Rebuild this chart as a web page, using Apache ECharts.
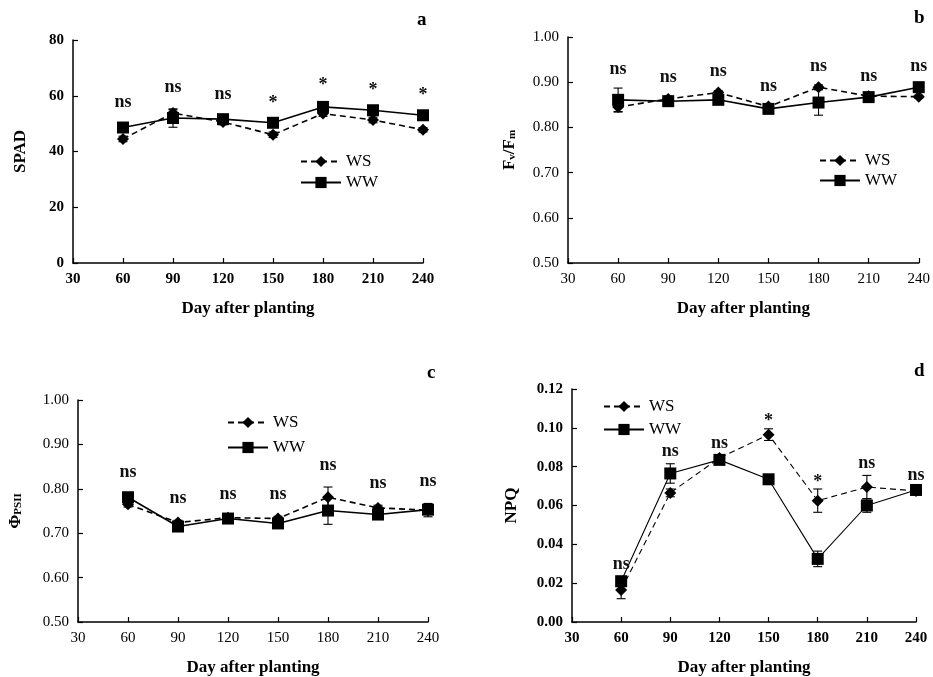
<!DOCTYPE html>
<html><head><meta charset="utf-8">
<script src="https://cdn.jsdelivr.net/npm/echarts@6/dist/echarts.min.js"></script>
<style>html,body{margin:0;padding:0;background:#fff}#c{width:933px;height:677px}</style>
</head><body><div id="c"></div>
<script>
const days = [60, 90, 120, 150, 180, 210, 240];
const xTicks = [30, 60, 90, 120, 150, 180, 210, 240];

// a: SPAD
const spadWS = [44.5, 53.8, 50.6, 46.0, 53.6, 51.3, 47.8];
const spadWSErr = [1.0, 1.2, 1.0, 1.0, 1.0, 1.0, 0.8];
const spadWW = [48.6, 52.0, 51.6, 50.3, 56.0, 54.8, 53.0];
const spadWWErr = [1.0, 3.3, 1.0, 1.0, 1.5, 1.0, 1.0];
const sigA = ['ns', 'ns', 'ns', '*', '*', '*', '*'];

// b: Fv/Fm
const fvWS = [0.845, 0.863, 0.877, 0.846, 0.889, 0.869, 0.868];
const fvWSErr = [0.011, 0.006, 0.004, 0.003, 0.005, 0.003, 0.003];
const fvWW = [0.861, 0.858, 0.861, 0.841, 0.855, 0.867, 0.889];
const fvWWErr = [0.026, 0.010, 0.004, 0.004, 0.028, 0.004, 0.004];
const sigB = ['ns', 'ns', 'ns', 'ns', 'ns', 'ns', 'ns'];

// c: ΦPSII
const phiWS = [0.765, 0.724, 0.735, 0.733, 0.781, 0.757, 0.752];
const phiWSErr = [0.006, 0.005, 0.004, 0.005, 0.023, 0.006, 0.015];
const phiWW = [0.781, 0.715, 0.733, 0.722, 0.751, 0.742, 0.753];
const phiWWErr = [0.007, 0.005, 0.005, 0.005, 0.031, 0.007, 0.005];
const sigC = ['ns', 'ns', 'ns', 'ns', 'ns', 'ns', 'ns'];

// d: NPQ
const npqWS = [0.0165, 0.0665, 0.0845, 0.0965, 0.0625, 0.0695, 0.0675];
const npqWSErr = [0.0045, 0.002, 0.0015, 0.003, 0.006, 0.006, 0.0015];
const npqWW = [0.021, 0.0765, 0.0835, 0.0735, 0.0325, 0.060, 0.068];
const npqWWErr = [0.0025, 0.005, 0.0015, 0.002, 0.004, 0.0035, 0.0015];
const sigD = ['ns', 'ns', 'ns', '*', '*', 'ns', 'ns'];

const FONT = 'Liberation Serif';
const chart = echarts.init(document.getElementById('c'));

const panels = [
  {letter: 'a', ws: spadWS, wsE: spadWSErr, ww: spadWW, wwE: spadWWErr, sig: sigA,
   grid: {left: 73, top: 40, width: 350, height: 223}, ymin: 0, ymax: 80, yint: 20, dec: 0,
   yname: 'SPAD', tickBold: 'bold', sigOff: 22, lw: 1.6, nameGap: 44,
   legend: {left: 295, top: 148, gap: 4}, letterPos: [422, 22]},
  {letter: 'b', ws: fvWS, wsE: fvWSErr, ww: fvWW, wwE: fvWWErr, sig: sigB,
   grid: {left: 568, top: 37, width: 351, height: 226}, ymin: 0.5, ymax: 1.0, yint: 0.1, dec: 2,
   yname: '{n|F}{sub|v}{n|/F}{sub|m}', tickBold: 'normal', sigOff: 19, lw: 1.6, nameGap: 50,
   legend: {left: 814, top: 147, gap: 3}, letterPos: [919, 20]},
  {letter: 'c', ws: phiWS, wsE: phiWSErr, ww: phiWW, wwE: phiWWErr, sig: sigC,
   grid: {left: 78, top: 400, width: 350, height: 223}, ymin: 0.5, ymax: 1.0, yint: 0.1, dec: 2,
   yname: '{n|Φ}{sub|PSII}', tickBold: 'normal', sigOff: 22, lw: 1.6, nameGap: 54,
   legend: {left: 222, top: 409, gap: 8}, letterPos: [432, 375]},
  {letter: 'd', ws: npqWS, wsE: npqWSErr, ww: npqWW, wwE: npqWWErr, sig: sigD,
   grid: {left: 572, top: 389, width: 344, height: 240}, ymin: 0, ymax: 0.12, yint: 0.02, dec: 2,
   yname: 'NPQ', tickBold: 'bold', sigOff: 12, lw: 1.1, nameGap: 52,
   legend: {left: 598, top: 393, gap: 6}, letterPos: [919, 373]}
];

const grids = [], xAxes = [], yAxes = [], series = [], legends = [], graphics = [];

function errData(vals, errs) {
  return days.map((d, i) => [d, vals[i] - errs[i], vals[i] + errs[i]]);
}

panels.forEach((p, k) => {
  grids.push(p.grid);
  xAxes.push({
    type: 'value', gridIndex: k, min: 30, max: 240, interval: 30,
    name: 'Day after planting', nameLocation: 'middle', nameGap: 37,
    nameTextStyle: {fontFamily: FONT, fontSize: 17, fontWeight: 'bold', color: '#000'},
    axisLine: {show: true, onZero: false, lineStyle: {color: '#000', width: 1.5}},
    axisTick: {show: true, inside: true, length: 5, lineStyle: {color: '#000', width: 1.2}},
    axisLabel: {fontFamily: FONT, fontSize: 15, fontWeight: p.tickBold, color: '#000', margin: 9},
    splitLine: {show: false}
  });
  yAxes.push({
    type: 'value', gridIndex: k, min: p.ymin, max: p.ymax, interval: p.yint,
    name: p.yname, nameLocation: 'middle', nameGap: p.nameGap, nameRotate: 90,
    nameTextStyle: {fontFamily: FONT, fontSize: 17, fontWeight: 'bold', color: '#000',
      rich: {
        n: {fontFamily: FONT, fontSize: 17, fontWeight: 'bold', color: '#000', lineHeight: 22, verticalAlign: 'bottom'},
        sub: {fontFamily: FONT, fontSize: 11, fontWeight: 'bold', color: '#000', lineHeight: 22, verticalAlign: 'bottom'}
      }},
    axisLine: {show: true, lineStyle: {color: '#000', width: 1.5}},
    axisTick: {show: true, inside: true, length: 5, lineStyle: {color: '#000', width: 1.2}},
    axisLabel: {fontFamily: FONT, fontSize: 15, fontWeight: p.tickBold, color: '#000', margin: 9,
      formatter: v => v.toFixed(p.dec)},
    splitLine: {show: false}
  });
  // error bars
  [[p.ws, p.wsE], [p.ww, p.wwE]].forEach(([v, e]) => {
    series.push({
      type: 'custom', xAxisIndex: k, yAxisIndex: k, z: 1, silent: true,
      data: errData(v, e), encode: {x: 0, y: [1, 2]},
      renderItem: (params, api) => {
        const lo = api.coord([api.value(0), api.value(1)]);
        const hi = api.coord([api.value(0), api.value(2)]);
        const w = 4.5;
        const st = {stroke: '#000', lineWidth: 1.1};
        return {type: 'group', children: [
          {type: 'line', shape: {x1: lo[0], y1: lo[1], x2: hi[0], y2: hi[1]}, style: st},
          {type: 'line', shape: {x1: lo[0] - w, y1: lo[1], x2: lo[0] + w, y2: lo[1]}, style: st},
          {type: 'line', shape: {x1: hi[0] - w, y1: hi[1], x2: hi[0] + w, y2: hi[1]}, style: st}
        ]};
      }
    });
  });
  series.push({
    name: 'WS', type: 'line', xAxisIndex: k, yAxisIndex: k, z: 3,
    data: days.map((d, i) => [d, p.ws[i]]),
    symbol: 'diamond', symbolSize: 12, showSymbol: true,
    lineStyle: {color: '#000', width: p.lw, type: [6, 4]},
    itemStyle: {color: '#000'}
  });
  series.push({
    name: 'WW', type: 'line', xAxisIndex: k, yAxisIndex: k, z: 4,
    data: days.map((d, i) => [d, p.ww[i]]),
    symbol: 'rect', symbolSize: 12, showSymbol: true,
    lineStyle: {color: '#000', width: p.lw, type: 'solid'},
    itemStyle: {color: '#000'}
  });
  // significance labels
  series.push({
    type: 'custom', xAxisIndex: k, yAxisIndex: k, z: 5, silent: true,
    data: days.map((d, i) => [d, Math.max(p.ws[i] + p.wsE[i], p.ww[i] + p.wwE[i]), i]),
    renderItem: (params, api) => {
      const c = api.coord([api.value(0), api.value(1)]);
      const s = p.sig[api.value(2)];
      const isStar = s === '*';
      return {type: 'text', x: c[0], y: c[1] - p.sigOff + (isStar ? 5 : 0),
        style: {text: s, fill: '#111', font: 'bold 18px "' + FONT + '"',
          align: 'center', verticalAlign: 'middle'}};
    }
  });
  legends.push({
    data: ['WS', 'WW'], orient: 'vertical', left: p.legend.left, top: p.legend.top,
    itemWidth: 40, itemHeight: 14, itemGap: p.legend.gap, selectedMode: false,
    textStyle: {fontFamily: FONT, fontSize: 17, color: '#000'}
  });
  graphics.push({type: 'text', left: p.letterPos[0] - 5, top: p.letterPos[1] - 11,
    style: {text: p.letter, font: 'bold 19px "' + FONT + '"', fill: '#000'}});
});

chart.setOption({
  animation: false,
  backgroundColor: '#fff',
  grid: grids, xAxis: xAxes, yAxis: yAxes, series: series, legend: legends, graphic: graphics
});
</script></body></html>
